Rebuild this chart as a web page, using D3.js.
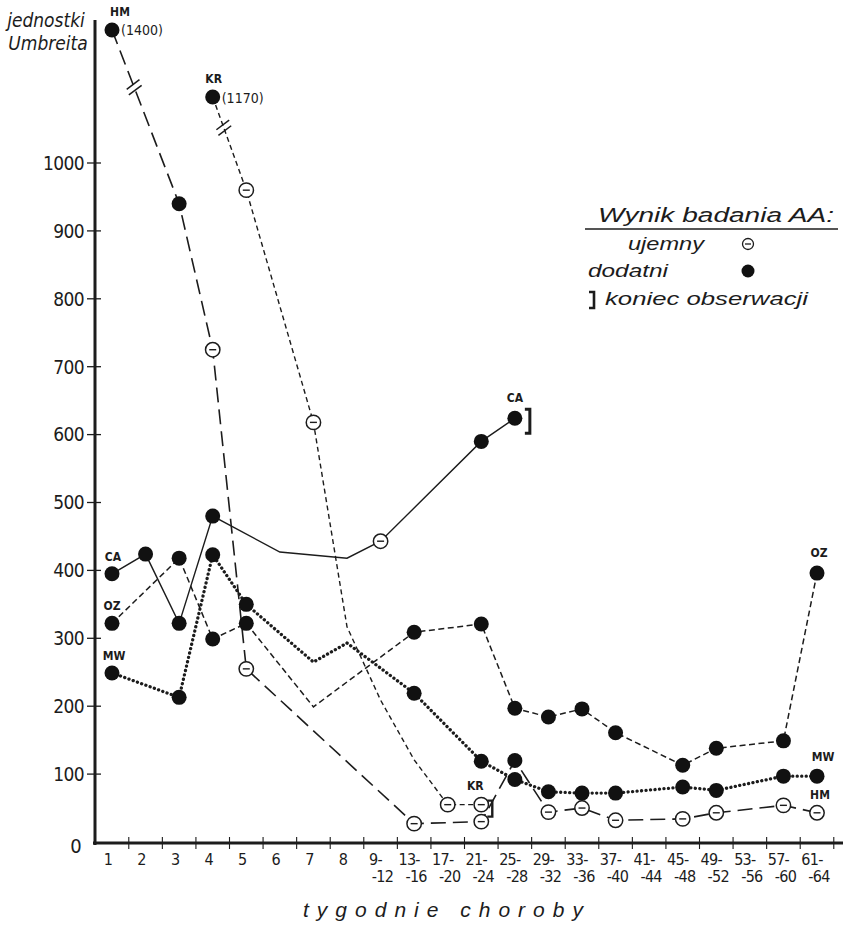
<!DOCTYPE html>
<html>
<head>
<meta charset="utf-8">
<script src="https://cdn.jsdelivr.net/npm/d3@7"></script>
<style>
  body { margin: 0; background: #fff; }
  svg { display: block; }
  text { fill: #1c1c1c; }
</style>
</head>
<body>
<svg id="chart" width="845" height="929"></svg>
<script>
// Week groups along the x axis
const weeks = ["1","2","3","4","5","6","7","8","9-12","13-16","17-20","21-24","25-28",
  "29-32","33-36","37-40","41-44","45-48","49-52","53-56","57-60","61-64"];
const yTicks = [100, 200, 300, 400, 500, 600, 700, 800, 900, 1000];

// Umbreit units per patient; result codes: "+" positive AA, "-" negative AA, "" no test
const hmValues  = [1400, null, 940, 725, 255, null, null, null, null, 27, null, 30, 120, 44, 50, 32, null, 34, 43, null, 54, 43];
const hmResults = ["+", "", "+", "-", "-", "", "", "", "", "-", "", "-", "+", "-", "-", "-", "", "-", "-", "", "-", "-"];

const krValues  = [null, null, null, 1170, 960, null, 618, 317, 209, 121, 55, 55, null, null, null, null, null, null, null, null, null, null];
const krResults = ["", "", "", "+", "-", "", "-", "", "", "", "-", "-", "", "", "", "", "", "", "", "", "", ""];

const caValues  = [395, 424, 322, 480, null, 427, null, 418, 443, null, null, 590, 624, null, null, null, null, null, null, null, null, null];
const caResults = ["+", "+", "+", "+", "", "", "", "", "-", "", "", "+", "+", "", "", "", "", "", "", "", "", ""];

const ozValues  = [322, null, 418, 299, 322, null, 199, null, null, 309, null, 321, 197, 184, 196, 161, null, 113, 138, null, 149, 396];
const ozResults = ["+", "", "+", "+", "+", "", "", "", "", "+", "", "+", "+", "+", "+", "+", "", "+", "+", "", "+", "+"];

const mwValues  = [249, null, 213, 423, 350, null, 265, 293, null, 219, null, 119, 92, 74, 72, 72, null, 81, 76, null, 97, 97];
const mwResults = ["+", "", "+", "+", "+", "", "", "", "", "+", "", "+", "+", "+", "+", "+", "", "+", "+", "", "+", "+"];

const series = [
  { name: "HM", values: hmValues, results: hmResults, dash: "15,7", width: 1.6, cap: "butt" },
  { name: "KR", values: krValues, results: krResults, dash: "5,3.5", width: 1.4, cap: "butt" },
  { name: "CA", values: caValues, results: caResults, dash: null, width: 1.4, cap: "butt" },
  { name: "OZ", values: ozValues, results: ozResults, dash: "6,3.5", width: 1.5, cap: "butt" },
  { name: "MW", values: mwValues, results: mwResults, dash: "0.1,4.4", width: 3.3, cap: "round" }
];

const svg = d3.select("#chart");
const ink = "#1c1c1c";
const narrow = "'DejaVu Sans Condensed', 'Liberation Sans Narrow', sans-serif";

const x = d3.scalePoint().domain(weeks).range([112, 817]);
// broken value axis: regular up to 1000, compressed above the break
const y = d3.scaleLinear().domain([0, 1000, 1170, 1400]).range([842, 163, 97, 30]);

// ---- axes ----
svg.append("line").attr("x1", 95).attr("x2", 95).attr("y1", 20).attr("y2", 845)
  .attr("stroke", ink).attr("stroke-width", 3);
svg.append("line").attr("x1", 93).attr("x2", 843).attr("y1", 843).attr("y2", 843)
  .attr("stroke", ink).attr("stroke-width", 3);

const yAxis = svg.append("g").attr("class", "y-axis");
yAxis.selectAll("line").data(yTicks).join("line")
  .attr("x1", 87).attr("x2", 101)
  .attr("y1", d => y(d)).attr("y2", d => y(d))
  .attr("stroke", ink).attr("stroke-width", 1.3);
yAxis.selectAll("text").data(yTicks).join("text")
  .attr("x", 84).attr("y", d => y(d)).attr("dy", "0.36em")
  .attr("text-anchor", "end")
  .style("font-family", narrow).style("font-size", "19px").style("letter-spacing", "-0.6px")
  .text(d => d);
svg.append("text").attr("x", 76).attr("y", 853).attr("text-anchor", "middle")
  .style("font-family", narrow).style("font-size", "20px").text("0");

// x ticks sit on the boundaries between week groups
const step = x.step();
const xAxis = svg.append("g").attr("class", "x-axis");
xAxis.selectAll("line").data(weeks).join("line")
  .attr("x1", d => x(d) + step / 2).attr("x2", d => x(d) + step / 2)
  .attr("y1", 837).attr("y2", 849)
  .attr("stroke", ink).attr("stroke-width", 1.1);

const xRows = weeks.flatMap(d => {
  if (d.includes("-")) {
    const [a, b] = d.split("-");
    return [{ w: d, t: a + "-", dx: -5, y: 865 }, { w: d, t: "-" + b, dx: 2, y: 882 }];
  }
  return [{ w: d, t: d, dx: -4, y: 865 }];
});
xAxis.selectAll("text").data(xRows).join("text")
  .attr("x", d => x(d.w) + d.dx).attr("y", d => d.y)
  .attr("text-anchor", "middle")
  .style("font-family", narrow).style("font-size", "16px").style("letter-spacing", "-0.7px")
  .text(d => d.t);

svg.append("text").attr("x", 447).attr("y", 917).attr("text-anchor", "middle")
  .style("font-family", "'Liberation Sans', sans-serif").style("font-style", "italic")
  .style("font-size", "21px").style("letter-spacing", "8px")
  .text("tygodnie choroby");

// y axis caption
const cap = svg.append("g").style("font-family", narrow).style("font-style", "italic").style("font-size", "19px");
cap.append("text").attr("x", 46).attr("y", 27).attr("text-anchor", "middle").text("jednostki");
cap.append("text").attr("x", 48).attr("y", 50).attr("text-anchor", "middle").text("Umbreita");

// ---- lines ----
const line = d3.line().x(d => x(d.w)).y(d => y(d.v));
const pts = s => s.values.map((v, i) => ({ w: weeks[i], v, r: s.results[i] })).filter(d => d.v != null);

const lines = svg.append("g").attr("class", "lines");
series.forEach(s => {
  lines.append("path").datum(pts(s))
    .attr("d", line).attr("fill", "none")
    .attr("stroke", ink).attr("stroke-width", s.width)
    .attr("stroke-linecap", s.cap)
    .attr("stroke-dasharray", s.dash);
});

// break marks on the first segments of HM and KR
function breakMark(s) {
  const p = pts(s);
  const a = p[0], b = p[1];
  const ax = x(a.w), ay = y(a.v), bx = x(b.w), by = y(b.v);
  const t = 0.33;
  const cx = ax + (bx - ax) * t, cy = ay + (by - ay) * t;
  const len = Math.hypot(bx - ax, by - ay);
  const ux = (bx - ax) / len, uy = (by - ay) / len;
  const ang = -37 * Math.PI / 180;
  const dx = Math.cos(ang) * 8, dy = Math.sin(ang) * 8;
  [-3, 3].forEach(o => {
    svg.append("line")
      .attr("x1", cx + ux * o - dx).attr("y1", cy + uy * o - dy)
      .attr("x2", cx + ux * o + dx).attr("y2", cy + uy * o + dy)
      .attr("stroke", ink).attr("stroke-width", 1.5);
  });
}
breakMark(series[0]);
breakMark(series[1]);

// ---- markers ----
const marks = svg.append("g").attr("class", "markers");
series.forEach(s => {
  pts(s).filter(d => d.r !== "").forEach(d => {
    const cx = x(d.w), cy = y(d.v);
    if (d.r === "+") {
      marks.append("circle").attr("cx", cx).attr("cy", cy).attr("r", 7.5).attr("fill", "#111");
    } else {
      marks.append("circle").attr("cx", cx).attr("cy", cy).attr("r", 7.2)
        .attr("fill", "#fff").attr("stroke", ink).attr("stroke-width", 1.5);
      marks.append("line").attr("x1", cx - 3.5).attr("x2", cx + 3.5).attr("y1", cy).attr("y2", cy)
        .attr("stroke", ink).attr("stroke-width", 1.4);
    }
  });
});

// end-of-observation brackets
function bracket(bx, by, h, w) {
  svg.append("path")
    .attr("d", `M${bx - 5},${by - h / 2} H${bx} V${by + h / 2} H${bx - 5}`)
    .attr("fill", "none").attr("stroke", ink).attr("stroke-width", w);
}
bracket(x("25-28") + 15, y(624) + 3, 24, 3);
bracket(x("21-24") + 11, y(55) + 4, 16, 2.4);

// ---- point labels ----
const lab = svg.append("g").style("font-family", narrow).style("font-weight", "bold").style("font-size", "12px");
const labels = [
  { t: "HM", w: "1", v: 1400, dx: 8, dy: -14 },
  { t: "KR", w: "4", v: 1170, dx: 1, dy: -14 },
  { t: "CA", w: "1", v: 395, dx: 1, dy: -13 },
  { t: "OZ", w: "1", v: 322, dx: 0, dy: -13 },
  { t: "MW", w: "1", v: 249, dx: 2, dy: -13 },
  { t: "CA", w: "25-28", v: 624, dx: 0, dy: -16 },
  { t: "OZ", w: "61-64", v: 396, dx: 2, dy: -16 },
  { t: "MW", w: "61-64", v: 97, dx: 6, dy: -15 },
  { t: "HM", w: "61-64", v: 43, dx: 3, dy: -14 },
  { t: "KR", w: "21-24", v: 55, dx: -6, dy: -15 }
];
lab.selectAll("text").data(labels).join("text")
  .attr("x", d => x(d.w) + d.dx).attr("y", d => y(d.v) + d.dy)
  .attr("text-anchor", "middle").text(d => d.t);

const val = svg.append("g").style("font-family", narrow).style("font-size", "14px");
val.append("text").attr("x", x("1") + 9).attr("y", y(1400) + 5).text("(1400)");
val.append("text").attr("x", x("4") + 9).attr("y", y(1170) + 6).text("(1170)");

// ---- legend ----
const lg = svg.append("g").style("font-family", "'Liberation Sans', sans-serif").style("font-style", "italic");
lg.append("text").attr("x", 598).attr("y", 222).style("font-size", "20px")
  .attr("textLength", 236).attr("lengthAdjust", "spacingAndGlyphs").text("Wynik badania AA:");
lg.append("line").attr("x1", 585).attr("x2", 838).attr("y1", 229).attr("y2", 229)
  .attr("stroke", ink).attr("stroke-width", 1.6);
lg.append("text").attr("x", 628).attr("y", 250).style("font-size", "19px")
  .attr("textLength", 76).attr("lengthAdjust", "spacingAndGlyphs").text("ujemny");
lg.append("circle").attr("cx", 748).attr("cy", 244).attr("r", 5.5)
  .attr("fill", "#fff").attr("stroke", ink).attr("stroke-width", 1.3);
lg.append("line").attr("x1", 745).attr("x2", 751).attr("y1", 244).attr("y2", 244)
  .attr("stroke", ink).attr("stroke-width", 1.3);
lg.append("text").attr("x", 588).attr("y", 277).style("font-size", "19px")
  .attr("textLength", 80).attr("lengthAdjust", "spacingAndGlyphs").text("dodatni");
lg.append("circle").attr("cx", 748).attr("cy", 271).attr("r", 6.5).attr("fill", "#111");
lg.append("path").attr("d", "M589,292 H594 V308 H589").attr("fill", "none")
  .attr("stroke", ink).attr("stroke-width", 2.6);
lg.append("text").attr("x", 605).attr("y", 305).style("font-size", "19px")
  .attr("textLength", 203).attr("lengthAdjust", "spacingAndGlyphs").text("koniec obserwacji");
</script>
</body>
</html>
